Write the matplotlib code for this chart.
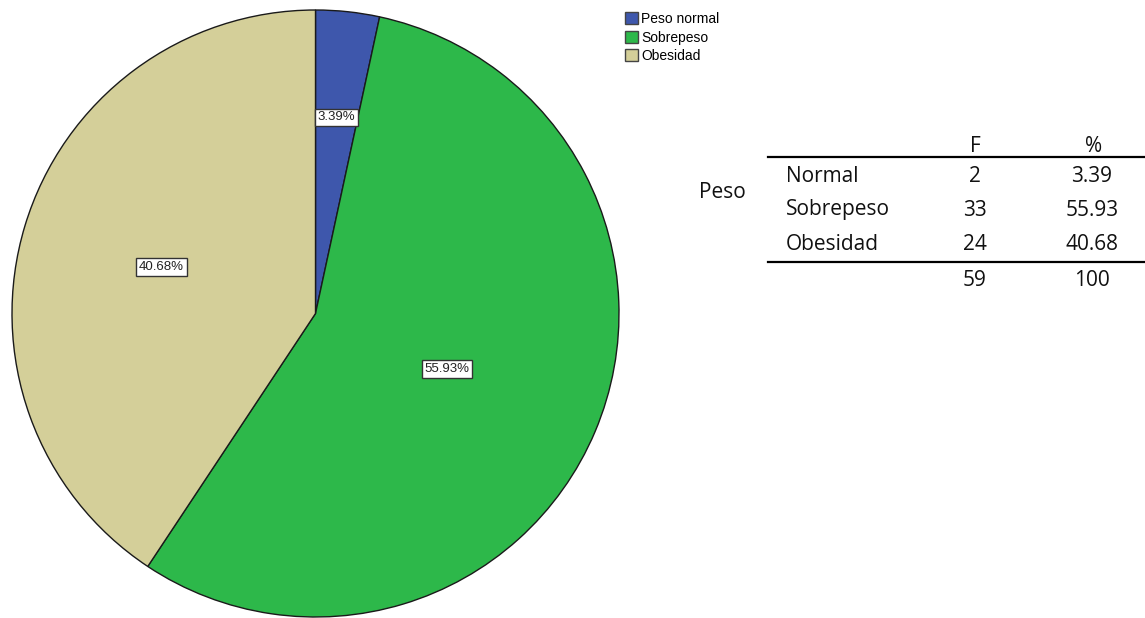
import numpy as np
import matplotlib.pyplot as plt
from matplotlib.patches import Patch

# peso categories and counts
categorias = ['Peso normal', 'Sobrepeso', 'Obesidad']
filas = ['Normal', 'Sobrepeso', 'Obesidad']
frecuencias = [2, 33, 24]
porcentajes = [3.39, 55.93, 40.68]
total_f = 59
total_pct = 100
colores = ['#3E57AC', '#2DB84A', '#D4CF99']

W, H = 1145, 618
fig = plt.figure(figsize=(W / 100, H / 100), dpi=100)
ax = fig.add_axes([0, 0, 1, 1])

cx, cy, R = 315.5, H - 313.5, 303.5
wedges, _ = ax.pie(porcentajes, colors=colores, startangle=90, counterclock=False,
                   center=(cx, cy), radius=R, frame=True,
                   wedgeprops=dict(edgecolor='#1a1a1a', linewidth=1.0))
ax.set_xlim(0, W)
ax.set_ylim(0, H)
ax.set_aspect('equal')
ax.axis('off')

# percentage labels in boxes, placed along each wedge's mid angle
frac_r = [0.65, 0.47, 0.53]
for w, p, fr in zip(wedges, porcentajes, frac_r):
    ang = np.deg2rad((w.theta1 + w.theta2) / 2)
    x = cx + fr * R * np.cos(ang)
    y = cy + fr * R * np.sin(ang)
    ax.text(x, y, '%.2f%%' % p, ha='center', va='center', fontsize=9.5,
            family='Liberation Sans', color='#222222',
            bbox=dict(boxstyle='square,pad=0.2', fc='white', ec='#333333', lw=1.0))

leg = fig.legend(handles=[Patch(facecolor=c, edgecolor='#444444') for c in colores],
                 labels=categorias, loc='upper left', bbox_to_anchor=(618 / W, 1 - 5 / H),
                 frameon=False, prop={'family': 'Liberation Sans', 'size': 10},
                 handlelength=0.95, handleheight=0.95, handletextpad=0.2,
                 labelspacing=0.33, borderpad=0)

# frequency table
tf = dict(family='Open Sans', fontsize=15, color='#111111')
ax.text(975, H - 146, 'F', ha='center', va='center', **tf)
ax.text(1094, H - 146, '%', ha='center', va='center', **tf)
ax.plot([768, W], [H - 157, H - 157], color='black', lw=1.6)
row_y = [176, 210, 244]
for nombre, f, p, yy in zip(filas, frecuencias, porcentajes, row_y):
    ax.text(786, H - yy, nombre, ha='left', va='center', **tf)
    ax.text(975, H - yy, str(f), ha='center', va='center', **tf)
    ax.text(1092, H - yy, '%.2f' % p, ha='center', va='center', **tf)
ax.text(722, H - 192, 'Peso', ha='center', va='center', **tf)
ax.plot([768, W], [H - 262, H - 262], color='black', lw=1.6)
ax.text(975, H - 280, str(total_f), ha='center', va='center', **tf)
ax.text(1092, H - 280, str(total_pct), ha='center', va='center', **tf)

fig.savefig('out.png', dpi=100, facecolor='white')
